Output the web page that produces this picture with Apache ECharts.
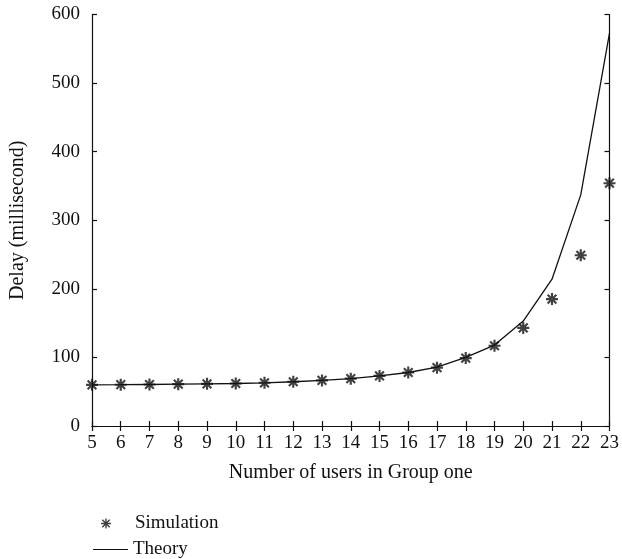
<!DOCTYPE html>
<html>
<head>
<meta charset="utf-8">
<script src="https://cdn.jsdelivr.net/npm/echarts@6/dist/echarts.min.js"></script>
<style>
html,body{margin:0;padding:0;background:#fff;}
#chart{width:622px;height:559px;}
</style>
</head>
<body>
<div id="chart"></div>
<script>
var users = [5,6,7,8,9,10,11,12,13,14,15,16,17,18,19,20,21,22,23];
var theory = [60,60.2,60.5,61,61.5,62,63,64.5,66.5,69,73,78,86,100,118,153,214,337,573];
var simulation = [60,60.2,60.5,61,61.5,62,63,64.5,66.5,69,73,78,85,99,117,143,185,249,354];
var xTitle = 'Number of users in Group one';
var yTitle = 'Delay (millisecond)';
var seriesNames = ['Simulation','Theory'];

var starCore = 'M0,4.1L10,4.1L10,5.9L0,5.9Z M4.1,0L5.9,0L5.9,10L4.1,10Z M2.0,0.75L9.25,8.0L8.0,9.25L0.75,2.0Z M8.0,0.75L9.25,2.0L2.0,9.25L0.75,8.0Z';
var star = 'path://' + starCore;
// legend icons padded with tiny anchors so the icon box keeps its proportions
var starLegend = 'path://M0,0L0.01,0L0,0.01Z M48,10L47.99,10L48,9.99Z ' +
  'M19,4.3L29,4.3L29,5.7L19,5.7Z M23.3,0L24.7,0L24.7,10L23.3,10Z M20.8,0.8L28.2,8.2L27.2,9.2L19.8,1.8Z M27.2,0.8L28.2,1.8L20.8,9.2L19.8,8.2Z';
var lineLegend = 'path://M0,0L0.01,0L0,0.01Z M35,10L34.99,10L35,9.99Z M0,4.4L35,4.4L35,5.6L0,5.6Z';
var FONT = 'Liberation Serif';
var ink = '#111';

function pairs(ys){ return users.map(function(u,i){ return [u, ys[i]]; }); }

var axisCommon = {
  axisLine:{show:true, lineStyle:{color:ink, width:1.2}},
  axisTick:{show:true, inside:true, length:5, lineStyle:{color:ink, width:1.2}},
  splitLine:{show:false}
};

var chart = echarts.init(document.getElementById('chart'), null, {renderer:'canvas'});
chart.setOption({
  animation:false,
  backgroundColor:'#fff',
  grid:{left:91, right:9, top:14.5, bottom:133, containLabel:false},
  xAxis:[
    Object.assign({type:'value', min:5, max:23, interval:1, position:'bottom',
      name:xTitle, nameLocation:'middle', nameGap:37,
      nameTextStyle:{fontFamily:FONT, fontSize:20, color:ink},
      axisLabel:{fontFamily:FONT, fontSize:19, color:ink, margin:8}}, axisCommon),
    Object.assign({type:'value', min:5, max:23, interval:1, position:'top',
      axisLabel:{show:false}}, axisCommon)
  ],
  yAxis:[
    Object.assign({type:'value', min:0, max:600, interval:100, position:'left',
      name:yTitle, nameLocation:'middle', nameGap:64, nameRotate:90,
      nameTextStyle:{fontFamily:FONT, fontSize:20, color:ink},
      axisLabel:{fontFamily:FONT, fontSize:19, color:ink, margin:12}}, axisCommon),
    Object.assign({type:'value', min:0, max:600, interval:100, position:'right',
      axisLabel:{show:false}}, axisCommon)
  ],
  legend:[
    {orient:'vertical', left:77, top:509, itemWidth:48, itemHeight:10,
      textStyle:{fontFamily:FONT, fontSize:19, color:ink},
      data:[{name:seriesNames[0], icon:starLegend}]},
    {orient:'vertical', left:88, top:535, itemWidth:35, itemHeight:10,
      textStyle:{fontFamily:FONT, fontSize:19, color:ink},
      data:[{name:seriesNames[1], icon:lineLegend}]}
  ],
  series:[
    {name:seriesNames[1], type:'line', data:pairs(theory), symbol:'none',
      lineStyle:{color:ink, width:1.3}, itemStyle:{color:ink}, z:2},
    {name:seriesNames[0], type:'scatter', data:pairs(simulation), symbol:star,
      symbolSize:12, symbolKeepAspect:true, itemStyle:{color:ink}, z:3}
  ]
});
</script>
</body>
</html>
